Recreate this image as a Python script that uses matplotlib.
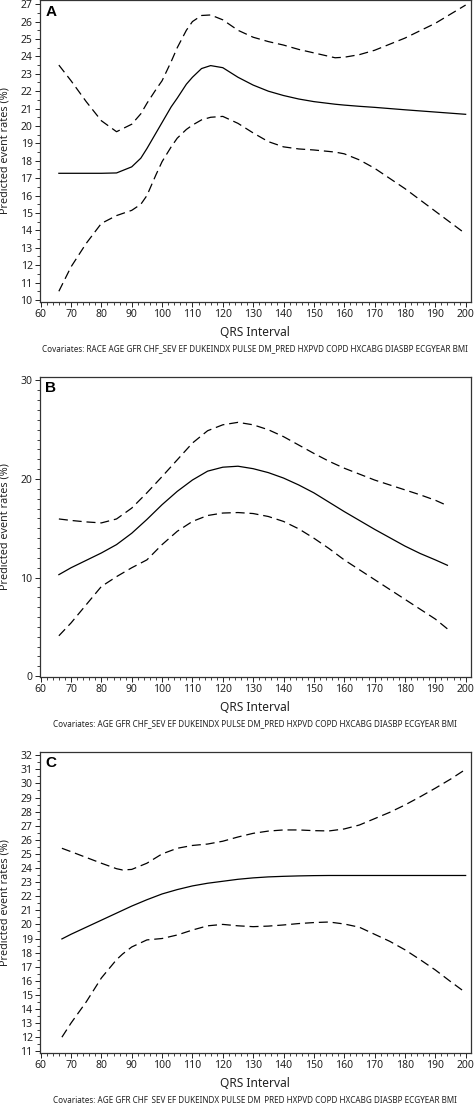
import matplotlib
matplotlib.use("Agg")
import matplotlib.pyplot as plt
from matplotlib.ticker import MultipleLocator

plt.rcParams['font.family'] = ['Noto Sans', 'DejaVu Sans']
plt.rcParams['lines.scale_dashes'] = False

# ---------------- Data ----------------
# Panel A
a_x = [66, 70, 75, 80, 85, 90, 93, 95, 98, 100, 103, 105, 108, 110, 113, 116, 120, 125, 130,
       135, 140, 145, 150, 157, 160, 165, 170, 180, 190, 200]
a_mid = [17.28, 17.28, 17.28, 17.28, 17.3, 17.65, 18.15, 18.7, 19.6, 20.2, 21.1, 21.6, 22.4, 22.8,
         23.3, 23.47, 23.35, 22.8, 22.35, 22.0, 21.75, 21.55, 21.4, 21.25, 21.2, 21.13, 21.07,
         20.93, 20.8, 20.67]
a_up = [23.5, 22.6, 21.4, 20.3, 19.67, 20.1, 20.7, 21.3, 22.1, 22.6, 23.7, 24.5, 25.5, 26.0,
        26.35, 26.38, 26.1, 25.5, 25.1, 24.85, 24.65, 24.4, 24.2, 23.92, 23.95, 24.1, 24.35,
        25.05, 25.9, 26.95]
a_lo = [10.5, 11.9, 13.25, 14.4, 14.85, 15.15, 15.5, 16.0, 17.2, 17.95, 18.8, 19.3, 19.8, 20.05,
        20.35, 20.5, 20.55, 20.15, 19.6, 19.1, 18.8, 18.68, 18.62, 18.5, 18.4, 18.05, 17.57,
        16.4, 15.1, 13.8]

# Panel B
b_x = [66, 70, 75, 80, 85, 90, 95, 100, 105, 110, 115, 120, 125, 130, 135, 140, 145, 150, 155,
       160, 165, 170, 175, 180, 185, 190, 194]
b_mid = [10.3, 11.0, 11.75, 12.5, 13.35, 14.5, 15.9, 17.4, 18.75, 19.9, 20.8, 21.2, 21.3, 21.05,
         20.65, 20.1, 19.4, 18.6, 17.65, 16.7, 15.8, 14.9, 14.05, 13.2, 12.45, 11.8, 11.25]
b_up = [15.95, 15.8, 15.65, 15.55, 15.95, 17.05, 18.6, 20.25, 21.95, 23.65, 24.9, 25.5, 25.75,
        25.5, 25.0, 24.3, 23.45, 22.6, 21.8, 21.1, 20.5, 19.9, 19.4, 18.9, 18.4, 17.85, 17.3]
b_lo = [4.1, 5.4, 7.25, 9.1, 10.1, 11.0, 11.8, 13.35, 14.7, 15.7, 16.3, 16.55, 16.6, 16.5, 16.2,
        15.7, 14.95, 14.0, 12.95, 11.8, 10.8, 9.8, 8.8, 7.8, 6.8, 5.8, 4.8]

# Panel C
c_x = [67, 70, 75, 80, 85, 87, 90, 95, 100, 105, 110, 115, 120, 125, 130, 135, 140, 145, 150,
       155, 160, 165, 170, 175, 180, 185, 190, 195, 200]
c_mid = [18.97, 19.3, 19.8, 20.3, 20.8, 21.0, 21.3, 21.75, 22.16, 22.47, 22.73, 22.92, 23.06,
         23.2, 23.3, 23.37, 23.41, 23.44, 23.46, 23.47, 23.47, 23.47, 23.47, 23.47, 23.47,
         23.47, 23.47, 23.47, 23.47]
c_up = [25.4, 25.16, 24.75, 24.34, 23.95, 23.86, 23.9, 24.34, 25.0, 25.4, 25.6, 25.7, 25.9,
        26.2, 26.46, 26.62, 26.7, 26.7, 26.65, 26.63, 26.77, 27.05, 27.5, 27.95, 28.47, 29.05,
        29.66, 30.3, 31.0]
c_lo = [12.0, 13.0, 14.5, 16.2, 17.5, 17.9, 18.4, 18.9, 19.0, 19.25, 19.6, 19.9, 20.0, 19.9,
        19.84, 19.88, 19.96, 20.06, 20.13, 20.17, 20.03, 19.8, 19.3, 18.8, 18.2, 17.5, 16.77,
        15.95, 15.16]

panel_labels = ['A', 'B', 'C']
x_label = 'QRS Interval'
y_label = 'Predicted event rates (%)'
covariates = [
    'Covariates: RACE AGE GFR CHF_SEV EF DUKEINDX PULSE DM_PRED HXPVD COPD HXCABG DIASBP ECGYEAR BMI',
    'Covariates: AGE GFR CHF_SEV EF DUKEINDX PULSE DM_PRED HXPVD COPD HXCABG DIASBP ECGYEAR BMI',
    'Covariates: AGE GFR CHF_SEV EF DUKEINDX PULSE DM_PRED HXPVD COPD HXCABG DIASBP ECGYEAR BMI',
]
x_ticks = list(range(60, 201, 10))

# ---------------- Layout ----------------
W, H = 474, 1103
fig = plt.figure(figsize=(W / 100, H / 100), dpi=100)

def frac_y(px):
    return (H - px) / H

panels = [
    dict(top=0.0, bottom=301.7, ylim=(9.9, 27.24), major=1, minor=0.5,
         x=a_x, mid=a_mid, up=a_up, lo=a_lo),
    dict(top=376.5, bottom=676.7, ylim=(-0.05, 30.4), major=10, minor=1,
         x=b_x, mid=b_mid, up=b_up, lo=b_lo),
    dict(top=751.7, bottom=1052.7, ylim=(10.9, 32.25), major=1, minor=0.5,
         x=c_x, mid=c_mid, up=c_up, lo=c_lo),
]

left_px, right_px = 40.2, 470.5
for i, p in enumerate(panels):
    b = frac_y(p['bottom'])
    t = frac_y(p['top'])
    ax = fig.add_axes([left_px / W, b, (right_px - left_px) / W, t - b])
    ax.plot(p['x'], p['mid'], color='black', lw=0.9, solid_joinstyle='round')
    ax.plot(p['x'], p['up'], color='black', lw=0.9, dashes=(6.5, 3.5))
    ax.plot(p['x'], p['lo'], color='black', lw=0.9, dashes=(6.5, 3.5))
    ax.set_xlim(59.85, 201.6)
    ax.set_ylim(*p['ylim'])
    ax.set_xticks(x_ticks)
    ax.xaxis.set_minor_locator(MultipleLocator(2))
    ax.yaxis.set_major_locator(MultipleLocator(p['major']))
    ax.yaxis.set_minor_locator(MultipleLocator(p['minor']))
    ax.tick_params(which='major', direction='out', length=3.5, width=0.7,
                   labelsize=7.5, colors='#222222', pad=2)
    ax.tick_params(which='minor', direction='out', length=2, width=0.6, colors='#222222')
    for s in ax.spines.values():
        s.set_linewidth(0.9)
        s.set_color('#333333')
    ax.text(0.012, 0.985, panel_labels[i], transform=ax.transAxes, ha='left', va='top',
            fontsize=11, fontweight='bold', family=['Liberation Sans', 'DejaVu Sans'])
    # y label
    cy = (b + t) / 2
    fig.text(5 / W, cy, y_label, rotation=90, ha='center', va='center', fontsize=7.8,
             color='#222222')
    # x label
    cx = (left_px + right_px) / 2 / W
    fig.text(cx, frac_y(p['bottom'] + 30.5), x_label, ha='center', va='center', fontsize=8.6,
             color='#222222')
    fig.text(cx, frac_y(p['bottom'] + 46.5), covariates[i], ha='center', va='center',
             fontsize=5.85, color='#222222')

fig.savefig('out.png', dpi=100)
